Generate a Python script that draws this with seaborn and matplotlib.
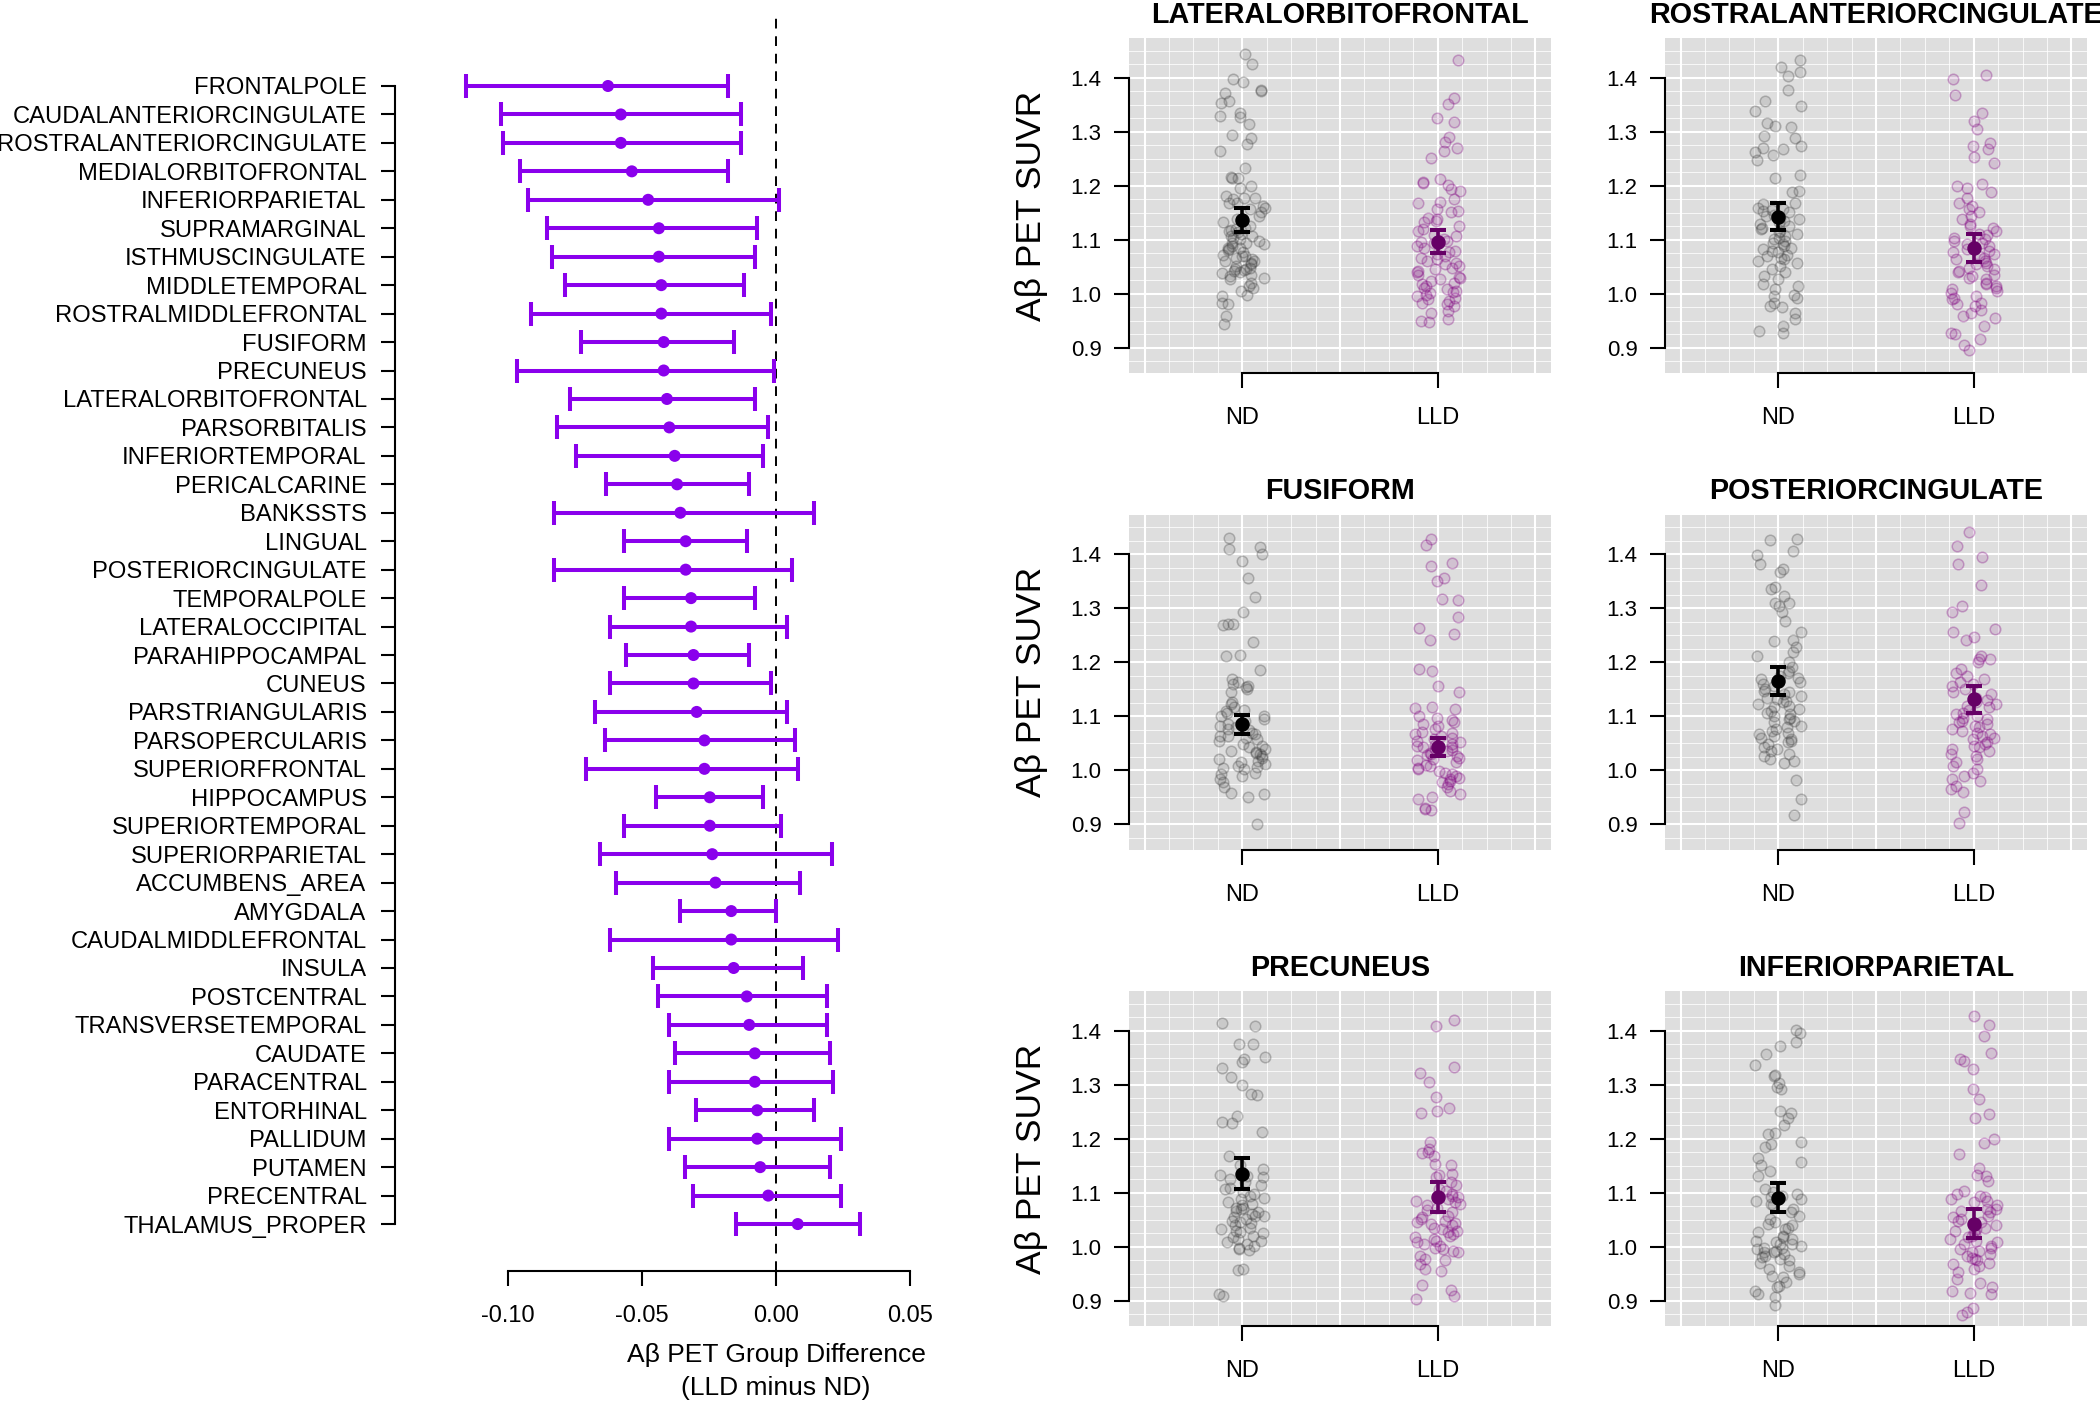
import numpy as np
import pandas as pd
import matplotlib.pyplot as plt
import seaborn as sns

plt.rcParams['font.family'] = ['Liberation Sans', 'DejaVu Sans']

# ---- forest plot data (LLD minus ND) ----
regions = ['FRONTALPOLE', 'CAUDALANTERIORCINGULATE', 'ROSTRALANTERIORCINGULATE',
           'MEDIALORBITOFRONTAL', 'INFERIORPARIETAL', 'SUPRAMARGINAL', 'ISTHMUSCINGULATE',
           'MIDDLETEMPORAL', 'ROSTRALMIDDLEFRONTAL', 'FUSIFORM', 'PRECUNEUS',
           'LATERALORBITOFRONTAL', 'PARSORBITALIS', 'INFERIORTEMPORAL', 'PERICALCARINE',
           'BANKSSTS', 'LINGUAL', 'POSTERIORCINGULATE', 'TEMPORALPOLE', 'LATERALOCCIPITAL',
           'PARAHIPPOCAMPAL', 'CUNEUS', 'PARSTRIANGULARIS', 'PARSOPERCULARIS',
           'SUPERIORFRONTAL', 'HIPPOCAMPUS', 'SUPERIORTEMPORAL', 'SUPERIORPARIETAL',
           'ACCUMBENS_AREA', 'AMYGDALA', 'CAUDALMIDDLEFRONTAL', 'INSULA', 'POSTCENTRAL',
           'TRANSVERSETEMPORAL', 'CAUDATE', 'PARACENTRAL', 'ENTORHINAL', 'PALLIDUM',
           'PUTAMEN', 'PRECENTRAL', 'THALAMUS_PROPER']
diff_mean = [-0.0627, -0.0579, -0.0579, -0.0538, -0.0477, -0.0437, -0.0437, -0.0428,
             -0.0428, -0.0419, -0.0419, -0.0407, -0.0398, -0.0378, -0.0369, -0.0357,
             -0.0337, -0.0337, -0.0317, -0.0317, -0.0308, -0.0308, -0.0296, -0.0267,
             -0.0267, -0.0247, -0.0247, -0.0238, -0.0226, -0.0167, -0.0167, -0.0158,
             -0.0109, -0.0100, -0.0079, -0.0079, -0.0070, -0.0070, -0.0059, -0.0029, 0.0081]
diff_lo = [-0.1158, -0.1027, -0.1018, -0.0957, -0.0925, -0.0855, -0.0837, -0.0787,
           -0.0916, -0.0726, -0.0968, -0.0767, -0.0817, -0.0747, -0.0636, -0.0828,
           -0.0568, -0.0828, -0.0568, -0.0618, -0.0559, -0.0618, -0.0676, -0.0638,
           -0.0708, -0.0448, -0.0568, -0.0658, -0.0597, -0.0357, -0.0618, -0.0459,
           -0.0439, -0.0398, -0.0378, -0.0398, -0.0299, -0.0398, -0.0339, -0.0308, -0.0149]
diff_hi = [-0.0179, -0.0129, -0.0129, -0.0179, 0.0011, -0.0070, -0.0079, -0.0120,
           -0.0018, -0.0158, -0.0009, -0.0079, -0.0029, -0.0050, -0.0100, 0.0140,
           -0.0109, 0.0061, -0.0079, 0.0041, -0.0100, -0.0018, 0.0041, 0.0070,
           0.0081, -0.0050, 0.0020, 0.0210, 0.0090, 0.0000, 0.0231, 0.0102,
           0.0192, 0.0192, 0.0201, 0.0213, 0.0140, 0.0242, 0.0201, 0.0242, 0.0312]
diff_ticks = [-0.10, -0.05, 0.00, 0.05]
diff_ticklabels = ['-0.10', '-0.05', '0.00', '0.05']

# ---- SUVR panels ----
panel_titles = ['LATERALORBITOFRONTAL', 'ROSTRALANTERIORCINGULATE', 'FUSIFORM',
                'POSTERIORCINGULATE', 'PRECUNEUS', 'INFERIORPARIETAL']
groups = ['ND', 'LLD']
suvr_ticks = [0.9, 1.0, 1.1, 1.2, 1.3, 1.4]

nd_mean = [1.137, 1.143, 1.086, 1.166, 1.136, 1.091]
nd_lo = [1.115, 1.118, 1.067, 1.140, 1.107, 1.065]
nd_hi = [1.159, 1.169, 1.102, 1.191, 1.164, 1.118]
lld_mean = [1.096, 1.085, 1.044, 1.132, 1.093, 1.043]
lld_lo = [1.075, 1.059, 1.027, 1.106, 1.065, 1.016]
lld_hi = [1.118, 1.111, 1.061, 1.157, 1.121, 1.070]

lof_nd = [1.444, 1.425, 1.399, 1.393, 1.378, 1.375, 1.373, 1.357, 1.354, 1.335, 1.330, 1.328,
          1.314, 1.294, 1.288, 1.278, 1.264, 1.234, 1.217, 1.215, 1.215, 1.200, 1.196, 1.181,
          1.178, 1.177, 1.175, 1.169, 1.168, 1.163, 1.160, 1.157, 1.151, 1.145, 1.138, 1.133,
          1.126, 1.123, 1.120, 1.117, 1.114, 1.111, 1.107, 1.104, 1.101, 1.098, 1.095, 1.094,
          1.089, 1.086, 1.083, 1.081, 1.077, 1.073, 1.070, 1.067, 1.064, 1.061, 1.058, 1.055,
          1.052, 1.049, 1.047, 1.046, 1.043, 1.040, 1.038, 1.033, 1.030, 1.027, 1.021, 1.015,
          1.012, 1.006, 0.999, 0.996, 0.984, 0.981, 0.959, 0.944, 1.062, 1.071, 1.085, 1.092,
          1.035, 1.044, 1.108, 1.118]
lof_lld = [1.434, 1.363, 1.352, 1.325, 1.318, 1.291, 1.282, 1.271, 1.265, 1.251, 1.212, 1.207,
           1.205, 1.202, 1.194, 1.191, 1.175, 1.171, 1.169, 1.157, 1.154, 1.151, 1.138, 1.135,
           1.133, 1.120, 1.117, 1.107, 1.101, 1.096, 1.094, 1.089, 1.086, 1.077, 1.070, 1.064,
           1.061, 1.055, 1.052, 1.046, 1.043, 1.040, 1.036, 1.032, 1.027, 1.021, 1.018, 1.015,
           1.009, 1.006, 1.002, 0.996, 0.993, 0.990, 0.987, 0.984, 0.981, 0.978, 0.969, 0.964,
           0.954, 0.950, 0.948, 1.110, 1.080, 1.067, 1.058, 1.049, 1.030, 1.024, 1.012, 0.999,
           1.004, 1.125, 1.098, 1.074, 1.141]
rac_nd = [1.433, 1.420, 1.411, 1.404, 1.377, 1.358, 1.348, 1.339, 1.317, 1.311, 1.310, 1.293,
          1.288, 1.274, 1.270, 1.268, 1.262, 1.257, 1.249, 1.220, 1.215, 1.191, 1.189, 1.169,
          1.166, 1.160, 1.157, 1.154, 1.151, 1.146, 1.141, 1.138, 1.133, 1.129, 1.123, 1.117,
          1.114, 1.107, 1.101, 1.098, 1.095, 1.089, 1.086, 1.083, 1.080, 1.077, 1.073, 1.070,
          1.067, 1.064, 1.058, 1.047, 1.040, 1.033, 1.027, 1.018, 1.015, 1.009, 0.999, 0.996,
          0.993, 0.984, 0.978, 0.975, 0.965, 0.954, 0.941, 0.931, 0.928, 1.144, 1.126, 1.111,
          1.104, 1.092, 1.061, 1.052, 1.121, 1.135, 1.155]
rac_lld = [1.405, 1.398, 1.368, 1.336, 1.320, 1.306, 1.280, 1.274, 1.268, 1.254, 1.242, 1.203,
           1.200, 1.197, 1.188, 1.178, 1.169, 1.163, 1.157, 1.151, 1.145, 1.138, 1.129, 1.126,
           1.123, 1.117, 1.111, 1.104, 1.101, 1.095, 1.089, 1.083, 1.077, 1.070, 1.064, 1.058,
           1.052, 1.049, 1.046, 1.040, 1.036, 1.033, 1.027, 1.021, 1.015, 1.012, 1.009, 1.002,
           0.996, 0.990, 0.984, 0.978, 0.971, 0.965, 0.959, 0.956, 0.941, 0.928, 0.925, 0.916,
           0.905, 0.896, 1.110, 1.092, 1.074, 1.067, 1.055, 1.043, 1.030, 1.018, 1.005, 0.993,
           0.982, 1.061, 1.080, 1.098]
fus_nd = [1.431, 1.414, 1.411, 1.401, 1.387, 1.357, 1.322, 1.294, 1.272, 1.271, 1.270, 1.237,
          1.214, 1.212, 1.186, 1.170, 1.164, 1.160, 1.157, 1.154, 1.151, 1.145, 1.126, 1.123,
          1.117, 1.111, 1.107, 1.101, 1.095, 1.086, 1.083, 1.077, 1.070, 1.067, 1.064, 1.061,
          1.055, 1.049, 1.043, 1.040, 1.036, 1.033, 1.030, 1.027, 1.021, 1.015, 1.012, 1.009,
          1.006, 1.002, 0.996, 0.990, 0.984, 0.978, 0.969, 0.959, 0.956, 0.950, 0.901, 1.092,
          1.075, 1.058, 1.046, 1.024, 1.018, 1.004, 1.080, 1.100, 1.112, 1.035, 0.993, 1.063]
fus_lld = [1.428, 1.417, 1.385, 1.379, 1.356, 1.351, 1.317, 1.316, 1.285, 1.263, 1.252, 1.242,
           1.188, 1.185, 1.157, 1.146, 1.117, 1.115, 1.114, 1.101, 1.098, 1.089, 1.083, 1.077,
           1.070, 1.067, 1.064, 1.058, 1.052, 1.049, 1.046, 1.043, 1.040, 1.036, 1.033, 1.030,
           1.027, 1.024, 1.021, 1.015, 1.009, 1.002, 0.999, 0.996, 0.990, 0.987, 0.984, 0.981,
           0.975, 0.969, 0.962, 0.956, 0.950, 0.948, 0.931, 0.928, 0.926, 1.061, 1.055, 1.048,
           1.038, 1.029, 1.019, 1.010, 1.005, 0.993, 1.072, 1.086, 1.094, 1.044, 0.978]
pcc_nd = [1.428, 1.427, 1.407, 1.399, 1.382, 1.374, 1.367, 1.339, 1.336, 1.323, 1.311, 1.310,
          1.305, 1.293, 1.277, 1.257, 1.242, 1.240, 1.228, 1.219, 1.212, 1.200, 1.191, 1.185,
          1.181, 1.175, 1.169, 1.163, 1.157, 1.151, 1.145, 1.138, 1.135, 1.129, 1.126, 1.120,
          1.114, 1.111, 1.107, 1.101, 1.098, 1.095, 1.089, 1.083, 1.077, 1.073, 1.070, 1.067,
          1.064, 1.058, 1.055, 1.049, 1.043, 1.040, 1.036, 1.030, 1.027, 1.021, 1.018, 1.014,
          0.983, 0.948, 0.917, 1.160, 1.142, 1.132, 1.117, 1.104, 1.092, 1.080, 1.061, 1.052,
          1.124, 1.148, 1.172]
pcc_lld = [1.442, 1.415, 1.396, 1.382, 1.343, 1.304, 1.293, 1.262, 1.256, 1.248, 1.242, 1.212,
           1.207, 1.206, 1.200, 1.181, 1.169, 1.163, 1.160, 1.157, 1.151, 1.141, 1.135, 1.126,
           1.120, 1.117, 1.107, 1.104, 1.101, 1.098, 1.095, 1.089, 1.086, 1.080, 1.077, 1.070,
           1.064, 1.061, 1.052, 1.049, 1.046, 1.040, 1.036, 1.030, 1.027, 1.021, 1.015, 1.009,
           1.002, 0.996, 0.990, 0.984, 0.981, 0.971, 0.965, 0.960, 0.923, 0.902, 1.146, 1.130,
           1.112, 1.092, 1.083, 1.073, 1.067, 1.058, 1.043, 1.124, 1.175, 1.188]
pcu_nd = [1.415, 1.410, 1.376, 1.375, 1.351, 1.349, 1.342, 1.331, 1.314, 1.300, 1.283, 1.281,
          1.243, 1.231, 1.229, 1.212, 1.168, 1.151, 1.145, 1.133, 1.132, 1.129, 1.126, 1.120,
          1.114, 1.107, 1.101, 1.098, 1.095, 1.089, 1.083, 1.077, 1.073, 1.070, 1.067, 1.064,
          1.058, 1.055, 1.052, 1.049, 1.046, 1.040, 1.036, 1.030, 1.027, 1.021, 1.015, 1.012,
          1.009, 1.002, 0.999, 0.996, 0.995, 0.960, 0.958, 0.913, 0.910, 1.062, 1.072, 1.080,
          1.091, 1.044, 1.034, 1.018, 1.005, 1.110, 1.058, 1.025]
pcu_lld = [1.421, 1.409, 1.333, 1.323, 1.305, 1.277, 1.258, 1.252, 1.248, 1.194, 1.181, 1.175,
           1.174, 1.168, 1.154, 1.151, 1.135, 1.133, 1.129, 1.120, 1.114, 1.103, 1.098, 1.092,
           1.086, 1.083, 1.077, 1.073, 1.064, 1.058, 1.052, 1.049, 1.046, 1.043, 1.040, 1.036,
           1.033, 1.027, 1.024, 1.021, 1.018, 1.015, 1.012, 1.009, 1.002, 0.996, 0.993, 0.990,
           0.984, 0.978, 0.975, 0.969, 0.959, 0.956, 0.930, 0.921, 0.910, 0.904, 1.108, 1.095,
           1.080, 1.068, 1.056, 1.045, 1.030, 1.006, 0.998, 1.088]
ipl_nd = [1.401, 1.396, 1.379, 1.373, 1.357, 1.337, 1.319, 1.317, 1.304, 1.296, 1.293, 1.252,
          1.249, 1.238, 1.225, 1.211, 1.209, 1.195, 1.191, 1.185, 1.164, 1.157, 1.151, 1.140,
          1.131, 1.107, 1.101, 1.098, 1.092, 1.089, 1.086, 1.080, 1.077, 1.064, 1.058, 1.052,
          1.046, 1.043, 1.040, 1.033, 1.027, 1.018, 1.015, 1.012, 1.009, 1.006, 1.002, 0.999,
          0.996, 0.993, 0.990, 0.987, 0.984, 0.981, 0.978, 0.971, 0.965, 0.953, 0.950, 0.947,
          0.944, 0.935, 0.928, 0.925, 0.919, 0.913, 0.907, 0.893, 0.998, 1.005, 1.020, 0.975,
          0.960, 0.990, 1.070, 1.094, 1.036]
ipl_lld = [1.427, 1.411, 1.391, 1.359, 1.348, 1.344, 1.330, 1.293, 1.274, 1.246, 1.239, 1.200,
           1.193, 1.172, 1.146, 1.133, 1.131, 1.123, 1.104, 1.098, 1.095, 1.089, 1.086, 1.083,
           1.077, 1.070, 1.067, 1.064, 1.058, 1.052, 1.046, 1.040, 1.036, 1.030, 1.027, 1.021,
           1.015, 1.009, 1.002, 0.996, 0.993, 0.990, 0.984, 0.978, 0.975, 0.971, 0.969, 0.965,
           0.959, 0.953, 0.941, 0.933, 0.925, 0.919, 0.914, 0.913, 0.887, 0.879, 0.874, 1.055,
           1.048, 1.033, 1.024, 1.012, 1.005, 0.998, 0.987, 0.980, 1.092, 1.070, 1.018]

panel_data = [(lof_nd, lof_lld), (rac_nd, rac_lld), (fus_nd, fus_lld),
              (pcc_nd, pcc_lld), (pcu_nd, pcu_lld), (ipl_nd, ipl_lld)]

W, H = 2100, 1407
fig = plt.figure(figsize=(W / 100, H / 100), dpi=100)

# ---- forest plot ----
forest_col = '#8a00ec'
ax = fig.add_axes([395 / W, 1 - 1271 / H, (930 - 395) / W, 1255 / H])
rows = np.arange(len(regions))
xerr = [np.array(diff_mean) - np.array(diff_lo), np.array(diff_hi) - np.array(diff_mean)]
ax.errorbar(diff_mean, rows, xerr=xerr, fmt='none', ecolor=forest_col, elinewidth=2.9,
            capsize=8.6, capthick=2.9, zorder=3)
sns.scatterplot(x=diff_mean, y=rows, color=forest_col, s=75, edgecolor='none', ax=ax, zorder=4)
ax.axvline(0, color='black', lw=1.4, ls=(0, (5, 4)), zorder=2)
ax.set_xlim(-0.14216, 0.05746)
ax.set_ylim(41.65, -2.46)
ax.set_yticks(rows)
ax.set_yticklabels(regions, fontsize=17.1)
ax.set_xticks(diff_ticks)
ax.set_xticklabels(diff_ticklabels, fontsize=17)
for s in ['top', 'right']:
    ax.spines[s].set_visible(False)
ax.spines['left'].set_bounds(0, len(regions) - 1)
ax.spines['bottom'].set_bounds(diff_ticks[0], diff_ticks[-1])
for s in ['left', 'bottom']:
    ax.spines[s].set_linewidth(1.5)
ax.tick_params(axis='y', length=10.4, width=1.5, pad=10)
ax.tick_params(axis='x', length=10.8, width=1.5, pad=14)
ax.set_xlabel('A\u03b2 PET Group Difference\n(LLD minus ND)', fontsize=19, linespacing=1.5)
xmin, xmax = ax.get_xlim()
ax.xaxis.set_label_coords((0 - xmin) / (xmax - xmin), -0.057)
ax.set_ylabel('')

# ---- SUVR panels ----
col_left = [1129, 1665]
row_top = [38, 514.5, 991]
pw, ph = 422, 335
nd_rgb = (0.25, 0.25, 0.25)
lld_rgb = (0.5, 0.0, 0.5)
lld_mean_col = '#660066'

for i, title in enumerate(panel_titles):
    r, c = divmod(i, 2)
    left = col_left[c]
    top = row_top[r]
    axp = fig.add_axes([left / W, 1 - (top + ph) / H, pw / W, ph / H])
    axp.set_facecolor('#dedede')
    # background grid
    for v in np.arange(0.85, 1.475, 0.025):
        axp.axhline(v, color='white', lw=0.7, alpha=0.8, zorder=0)
    for v in suvr_ticks:
        axp.axhline(v, color='white', lw=1.5, zorder=0.5)
    for v in np.arange(-0.5, 1.6, 0.125):
        axp.axvline(v, color='white', lw=0.7, alpha=0.8, zorder=0)
    for v in np.arange(-0.5, 1.6, 0.5):
        axp.axvline(v, color='white', lw=1.5, zorder=0.5)

    nd, lld = panel_data[i]
    df_nd = pd.DataFrame({'group': ['ND'] * len(nd), 'suvr': nd})
    df_lld = pd.DataFrame({'group': ['LLD'] * len(lld), 'suvr': lld})
    np.random.seed(i + 3)
    for df_g, rgb in [(df_nd, nd_rgb), (df_lld, lld_rgb)]:
        n_before = len(axp.collections)
        sns.stripplot(data=df_g, x='group', y='suvr', order=groups, color=rgb,
                      linewidth=1.1, size=7.6, jitter=0.12, ax=axp, zorder=2)
        for pts in axp.collections[n_before:]:
            pts.set_alpha(None)
            pts.set_facecolor(rgb + (0.13,))
            pts.set_edgecolor(rgb + (0.3,))
    axp.errorbar([0], [nd_mean[i]], yerr=[[nd_mean[i] - nd_lo[i]], [nd_hi[i] - nd_mean[i]]],
                 fmt='o', color='black', ms=9.4, elinewidth=2.6, capsize=5.6, capthick=2.9,
                 zorder=5)
    axp.errorbar([1], [lld_mean[i]], yerr=[[lld_mean[i] - lld_lo[i]], [lld_hi[i] - lld_mean[i]]],
                 fmt='o', color=lld_mean_col, ms=9.4, elinewidth=2.6, capsize=5.6, capthick=2.9,
                 zorder=5)

    axp.set_xlim(-0.58, 1.58)
    axp.set_ylim(0.8537, 1.474)
    axp.set_yticks(suvr_ticks)
    axp.set_yticklabels([f'{t:.1f}' for t in suvr_ticks], fontsize=16)
    axp.set_xticks([0, 1])
    axp.set_xticklabels(groups, fontsize=17)
    axp.set_xlabel('')
    axp.set_ylabel('')
    for s in ['top', 'right']:
        axp.spines[s].set_visible(False)
    axp.spines['left'].set_bounds(suvr_ticks[0], suvr_ticks[-1])
    axp.spines['bottom'].set_bounds(0, 1)
    for s in ['left', 'bottom']:
        axp.spines[s].set_linewidth(1.5)
    axp.tick_params(axis='y', length=10.8, width=1.5, pad=9)
    axp.tick_params(axis='x', length=10.8, width=1.5, pad=14)
    axp.set_title(title, fontsize=20.7, fontweight='bold', pad=11)
    if c == 0:
        fig.text(1032 / W, 1 - (top + ph / 2) / H, 'A\u03b2 PET SUVR', fontsize=25.5,
                 rotation=90, ha='center', va='center')

fig.savefig('out.png', dpi=100)
